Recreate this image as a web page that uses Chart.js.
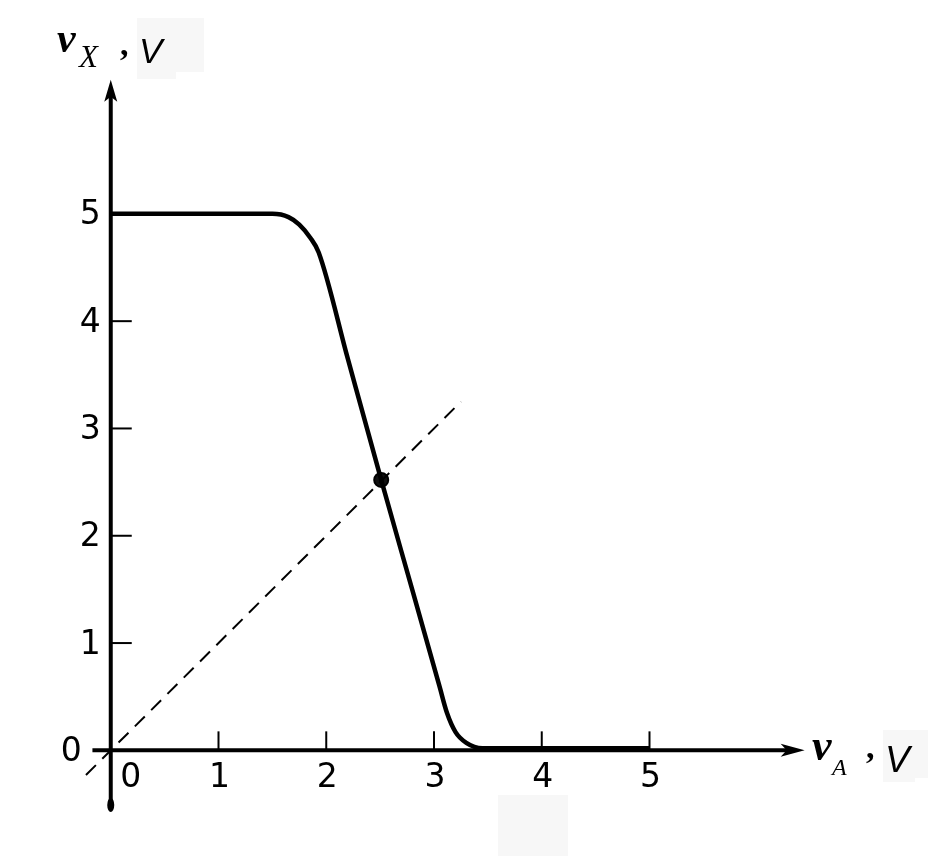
<!DOCTYPE html>
<html>
<head>
<meta charset="utf-8">
<script src="https://cdn.jsdelivr.net/npm/chart.js@4/dist/chart.umd.min.js"></script>
<style>
  html, body { margin: 0; padding: 0; background: #fff; }
  canvas { display: block; }
</style>
</head>
<body>
<canvas id="transfer" width="952" height="856"></canvas>
<script>
// transfer characteristic v_X vs v_A
var curveX = [0, 1.5, 1.65, 1.75, 1.85, 1.93, 2.2, 2.51, 2.8, 3.05, 3.12, 3.2, 3.3, 3.45, 5.0];
var curveY = [5, 5, 4.97, 4.9, 4.78, 4.64, 3.65, 2.52, 1.49, 0.6, 0.35, 0.17, 0.07, 0.02, 0.02];

// unity-gain line v_X = v_A
var unityX = [-0.23, 3.25];
var unityY = [-0.23, 3.25];

// switching threshold
var pointX = [2.51];
var pointY = [2.52];

var xTicks = [0, 1, 2, 3, 4, 5];
var yTicks = [0, 1, 2, 3, 4, 5];

function pairs(xs, ys) {
  return xs.map(function (x, i) { return { x: x, y: ys[i] }; });
}

var axesPlugin = {
  id: 'handAxes',
  beforeDraw: function (chart) {
    var ctx = chart.ctx;
    ctx.save();
    ctx.fillStyle = '#f7f7f7';
    ctx.fillRect(137, 18, 67, 54);
    ctx.fillRect(137, 72, 39, 7);
    ctx.fillRect(883, 730, 45, 48);
    ctx.fillRect(883, 778, 32, 4);
    ctx.fillRect(498, 795, 70, 61);
    ctx.restore();
  },
  beforeDatasetsDraw: function (chart) {
    var ctx = chart.ctx;
    var xs = chart.scales.x, ys = chart.scales.y;
    var x0 = xs.getPixelForValue(0), y0 = ys.getPixelForValue(0);
    ctx.save();
    ctx.strokeStyle = '#000';
    ctx.fillStyle = '#000';
    ctx.lineCap = 'butt';

    // y axis
    var yTop = ys.getPixelForValue(6.25);
    var yBot = ys.getPixelForValue(-0.5);
    ctx.lineWidth = 4;
    ctx.beginPath();
    ctx.moveTo(x0, yBot);
    ctx.lineTo(x0, yTop + 12);
    ctx.stroke();
    ctx.beginPath();
    ctx.ellipse(x0, yBot + 1, 3.5, 7, 0, 0, Math.PI * 2);
    ctx.fill();
    ctx.beginPath();
    ctx.moveTo(x0, yTop);
    ctx.lineTo(x0 + 6.5, yTop + 22);
    ctx.lineTo(x0, yTop + 17);
    ctx.lineTo(x0 - 6.5, yTop + 22);
    ctx.closePath();
    ctx.fill();

    // x axis
    var xLeft = xs.getPixelForValue(-0.17);
    var xRight = xs.getPixelForValue(6.44);
    ctx.beginPath();
    ctx.moveTo(xLeft, y0);
    ctx.lineTo(xRight - 12, y0);
    ctx.stroke();
    ctx.beginPath();
    ctx.moveTo(xRight, y0);
    ctx.lineTo(xRight - 24, y0 - 6.5);
    ctx.lineTo(xRight - 18, y0);
    ctx.lineTo(xRight - 24, y0 + 6.5);
    ctx.closePath();
    ctx.fill();

    // tick marks, pointing inward
    ctx.lineWidth = 2;
    xTicks.forEach(function (v) {
      if (v === 0) return;
      var px = xs.getPixelForValue(v);
      ctx.beginPath();
      ctx.moveTo(px, y0);
      ctx.lineTo(px, y0 - 19);
      ctx.stroke();
    });
    yTicks.forEach(function (v) {
      if (v === 0) return;
      var py = ys.getPixelForValue(v);
      ctx.beginPath();
      ctx.moveTo(x0, py);
      ctx.lineTo(x0 + 21, py);
      ctx.stroke();
    });

    // tick labels
    ctx.font = '33px "DejaVu Sans"';
    ctx.textBaseline = 'middle';
    ctx.textAlign = 'center';
    xTicks.forEach(function (v) {
      var px = xs.getPixelForValue(v);
      if (v === 0) px += 19;
      ctx.fillText(String(v), px + 1, y0 + 28);
    });
    ctx.textAlign = 'right';
    yTicks.forEach(function (v) {
      var py = ys.getPixelForValue(v);
      var px = v === 0 ? x0 - 29 : x0 - 10;
      ctx.fillText(String(v), px, py + 2);
    });

    // axis titles
    ctx.textAlign = 'left';
    ctx.textBaseline = 'alphabetic';
    ctx.font = 'italic bold 42px "Liberation Serif"';
    ctx.fillText('v', 57, 52);
    ctx.font = 'italic 31px "Liberation Serif"';
    ctx.fillText('X', 79, 67);
    ctx.font = 'bold 34px "Liberation Serif"';
    ctx.fillText(',', 120, 55);
    ctx.font = 'italic 35px "Liberation Sans"';
    ctx.fillText('V', 139, 63);

    ctx.font = 'italic bold 44px "Liberation Serif"';
    ctx.fillText('v', 812, 760);
    ctx.font = 'italic 24px "Liberation Serif"';
    ctx.fillText('A', 832, 775);
    ctx.font = 'bold 34px "Liberation Serif"';
    ctx.fillText(',', 866, 758);
    ctx.font = 'italic 37px "Liberation Sans"';
    ctx.fillText('V', 885, 772);

    ctx.restore();
  }
};

new Chart(document.getElementById('transfer'), {
  type: 'scatter',
  data: {
    datasets: [
      {
        label: 'v_X',
        data: pairs(curveX, curveY),
        showLine: true,
        cubicInterpolationMode: 'monotone',
        borderColor: '#000',
        borderWidth: 4.5,
        pointRadius: 0,
        fill: false
      },
      {
        label: 'v_X = v_A',
        data: pairs(unityX, unityY),
        showLine: true,
        borderColor: '#000',
        borderWidth: 2,
        borderDash: [14, 9],
        pointRadius: 0,
        fill: false
      },
      {
        label: 'V_M',
        data: pairs(pointX, pointY),
        pointRadius: 7,
        pointBackgroundColor: '#111',
        pointBorderColor: '#000',
        pointBorderWidth: 2
      }
    ]
  },
  options: {
    responsive: false,
    animation: false,
    layout: { autoPadding: false, padding: { left: 3, right: 87, top: 10, bottom: 52 } },
    plugins: {
      legend: { display: false },
      tooltip: { enabled: false }
    },
    scales: {
      x: { type: 'linear', min: -1, max: 7, display: false },
      y: { type: 'linear', min: -0.5, max: 6.9, display: false }
    }
  },
  plugins: [axesPlugin]
});
</script>
</body>
</html>
